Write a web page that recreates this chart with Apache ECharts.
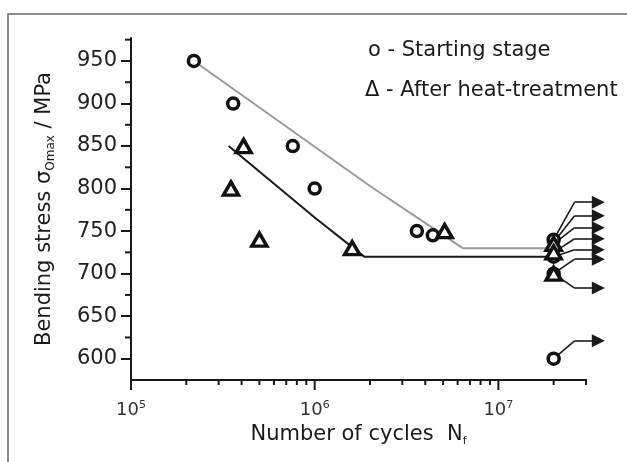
<!DOCTYPE html>
<html>
<head>
<meta charset="utf-8">
<script src="https://cdn.jsdelivr.net/npm/echarts@6/dist/echarts.min.js"></script>
<style>
html, body { margin: 0; padding: 0; background: #fff; }
#main { width: 627px; height: 462px; }
</style>
</head>
<body>
<div id="main"></div>
<script>
// o - starting stage
var startCycles = [2.2e5, 3.6e5, 7.6e5, 1.0e6, 3.6e6, 4.4e6, 2e7, 2e7, 2e7, 2e7];
var startStress = [950, 900, 850, 800, 750, 745, 740, 720, 700, 600];
// triangle - after heat-treatment
var heatCycles = [3.5e5, 4.1e5, 5.0e5, 1.6e6, 5.1e6, 2e7, 2e7, 2e7];
var heatStress = [800, 850, 740, 730, 750, 735, 725, 700];
// fitted curves
var startFitCycles = [2.2e5, 2.0e6, 6.4e6, 2.0e7];
var startFitStress = [950, 803, 730, 730];
var heatFitCycles = [3.4e5, 1.0e6, 1.86e6, 2.0e7];
var heatFitStress = [850, 766, 720, 720];
// run-outs (no failure): start level -> arrow level
var runoutFrom = [740, 737, 735, 725, 720, 700, 700, 600];
var runoutTo = [784, 768, 754, 741, 728, 717, 683, 621];
var runoutCycles = [2e7, 2.6e7, 3.5e7];
// axis ticks
var yTicks = [600, 650, 700, 750, 800, 850, 900, 950];
var yMinorTicks = [625, 675, 725, 775, 825, 875, 925, 975];
var xMajorTicks = [1e5, 1e6, 1e7];
var xMinorTicks = [2e5, 3e5, 4e5, 5e5, 6e5, 7e5, 8e5, 9e5,
    2e6, 3e6, 4e6, 5e6, 6e6, 7e6, 8e6, 9e6, 2e7, 3e7];

var xMin = 1e5, xMax = 3e7, yMin = 575, yMax = 977;
var font = 'DejaVu Sans';
var ink = '#1a1a1a';

function pairs(xs, ys) {
    return xs.map(function (x, i) { return [x, ys[i]]; });
}

// bent part of each run-out marker, then the horizontal arrow
var runoutBend = runoutFrom.map(function (f, i) {
    return { coords: [[runoutCycles[0], f], [runoutCycles[1], runoutTo[i]]] };
});
var runoutArrow = runoutTo.map(function (t) {
    return { coords: [[runoutCycles[1], t], [runoutCycles[2], t]] };
});

var xTickData = xMajorTicks.map(function (v) { return [v, 10]; })
    .concat(xMinorTicks.map(function (v) { return [v, 5]; }));
var yTickData = yMinorTicks.map(function (v) { return [xMin, v]; });

var myChart = echarts.init(document.getElementById('main'));

option = {
    animation: false,
    grid: {
        left: 131,
        right: 41,
        top: 38,
        bottom: 82
    },
    xAxis: {
        type: 'log',
        logBase: 10,
        min: xMin,
        max: xMax,
        name: '{a|Number of cycles  N}{s|f}',
        nameLocation: 'middle',
        nameGap: 40,
        nameTextStyle: {
            rich: {
                a: { fontFamily: font, fontSize: 21, color: ink, lineHeight: 24 },
                s: { fontFamily: font, fontSize: 11, color: ink, lineHeight: 11, verticalAlign: 'bottom' }
            }
        },
        axisLine: { lineStyle: { color: ink, width: 2 } },
        axisTick: { show: false },
        splitLine: { show: false },
        axisLabel: {
            margin: 20,
            showMaxLabel: false,
            formatter: function (v) {
                return '{n|10}{s|' + Math.round(Math.log10(v)) + '}';
            },
            rich: {
                n: { fontFamily: font, fontSize: 18, color: '#333', lineHeight: 20 },
                s: { fontFamily: font, fontSize: 11, color: '#333', lineHeight: 11, verticalAlign: 'top' }
            }
        }
    },
    yAxis: {
        type: 'value',
        min: yMin,
        max: yMax,
        name: '{a|Bending stress σ}{s|Omax}{a| / MPa}',
        nameLocation: 'middle',
        nameGap: 74,
        nameTextStyle: {
            rich: {
                a: { fontFamily: font, fontSize: 21, color: ink, lineHeight: 24 },
                s: { fontFamily: font, fontSize: 12, color: ink, lineHeight: 12, verticalAlign: 'bottom' }
            }
        },
        axisLine: { show: true, lineStyle: { color: ink, width: 2 } },
        axisTick: { show: true, length: 10, customValues: yTicks, lineStyle: { color: ink, width: 2 } },
        axisLabel: {
            customValues: yTicks,
            margin: 14,
            fontFamily: font,
            fontSize: 21,
            color: '#222'
        },
        splitLine: { show: false }
    },
    graphic: [
        {
            type: 'rect',
            shape: { x: 8, y: 14, width: 700, height: 500 },
            style: { fill: 'none', stroke: '#666', lineWidth: 1.5 },
            silent: true
        },
        {
            type: 'text',
            left: 368,
            top: 40,
            style: { text: 'o - Starting stage', fontFamily: font, fontSize: 21, fill: ink }
        },
        {
            type: 'text',
            left: 365,
            top: 80,
            style: { text: 'Δ - After heat-treatment', fontFamily: font, fontSize: 21, fill: ink }
        }
    ],
    series: [
        {
            name: 'xticks',
            type: 'custom',
            silent: true,
            data: xTickData,
            renderItem: function (params, api) {
                var p = api.coord([api.value(0), yMin]);
                return {
                    type: 'line',
                    shape: { x1: p[0], y1: p[1], x2: p[0], y2: p[1] + api.value(1) },
                    style: { stroke: ink, lineWidth: 2 }
                };
            }
        },
        {
            name: 'yticks',
            type: 'custom',
            silent: true,
            data: yTickData,
            renderItem: function (params, api) {
                var p = api.coord([xMin, api.value(1)]);
                return {
                    type: 'line',
                    shape: { x1: p[0] - 6, y1: p[1], x2: p[0], y2: p[1] },
                    style: { stroke: ink, lineWidth: 2 }
                };
            }
        },
        {
            name: 'start fit',
            type: 'line',
            data: pairs(startFitCycles, startFitStress),
            symbol: 'none',
            lineStyle: { color: '#9a9a9a', width: 2 },
            z: 2
        },
        {
            name: 'heat fit',
            type: 'line',
            data: pairs(heatFitCycles, heatFitStress),
            symbol: 'none',
            lineStyle: { color: '#1a1a1a', width: 2 },
            z: 2
        },
        {
            name: 'runout bend',
            type: 'lines',
            coordinateSystem: 'cartesian2d',
            clip: false,
            silent: true,
            symbol: 'none',
            lineStyle: { color: '#1a1a1a', width: 1.6, opacity: 1, curveness: 0 },
            data: runoutBend,
            z: 2
        },
        {
            name: 'runout arrow',
            type: 'lines',
            coordinateSystem: 'cartesian2d',
            clip: false,
            silent: true,
            symbol: ['none', 'triangle'],
            symbolSize: [9, 13],
            itemStyle: { color: '#1a1a1a' },
            lineStyle: { color: '#1a1a1a', width: 1.6, opacity: 1, curveness: 0 },
            data: runoutArrow,
            z: 2
        },
        {
            name: 'Starting stage',
            type: 'scatter',
            data: pairs(startCycles, startStress),
            symbol: 'circle',
            symbolSize: 11,
            itemStyle: { color: '#fff', borderColor: '#111', borderWidth: 3.5, opacity: 1 },
            z: 4
        },
        {
            name: 'After heat-treatment',
            type: 'scatter',
            data: pairs(heatCycles, heatStress),
            symbol: 'triangle',
            symbolSize: [15, 13],
            itemStyle: { color: '#fff', borderColor: '#111', borderWidth: 3.5, opacity: 1 },
            z: 4
        }
    ]
};

myChart.setOption(option);
</script>
</body>
</html>
